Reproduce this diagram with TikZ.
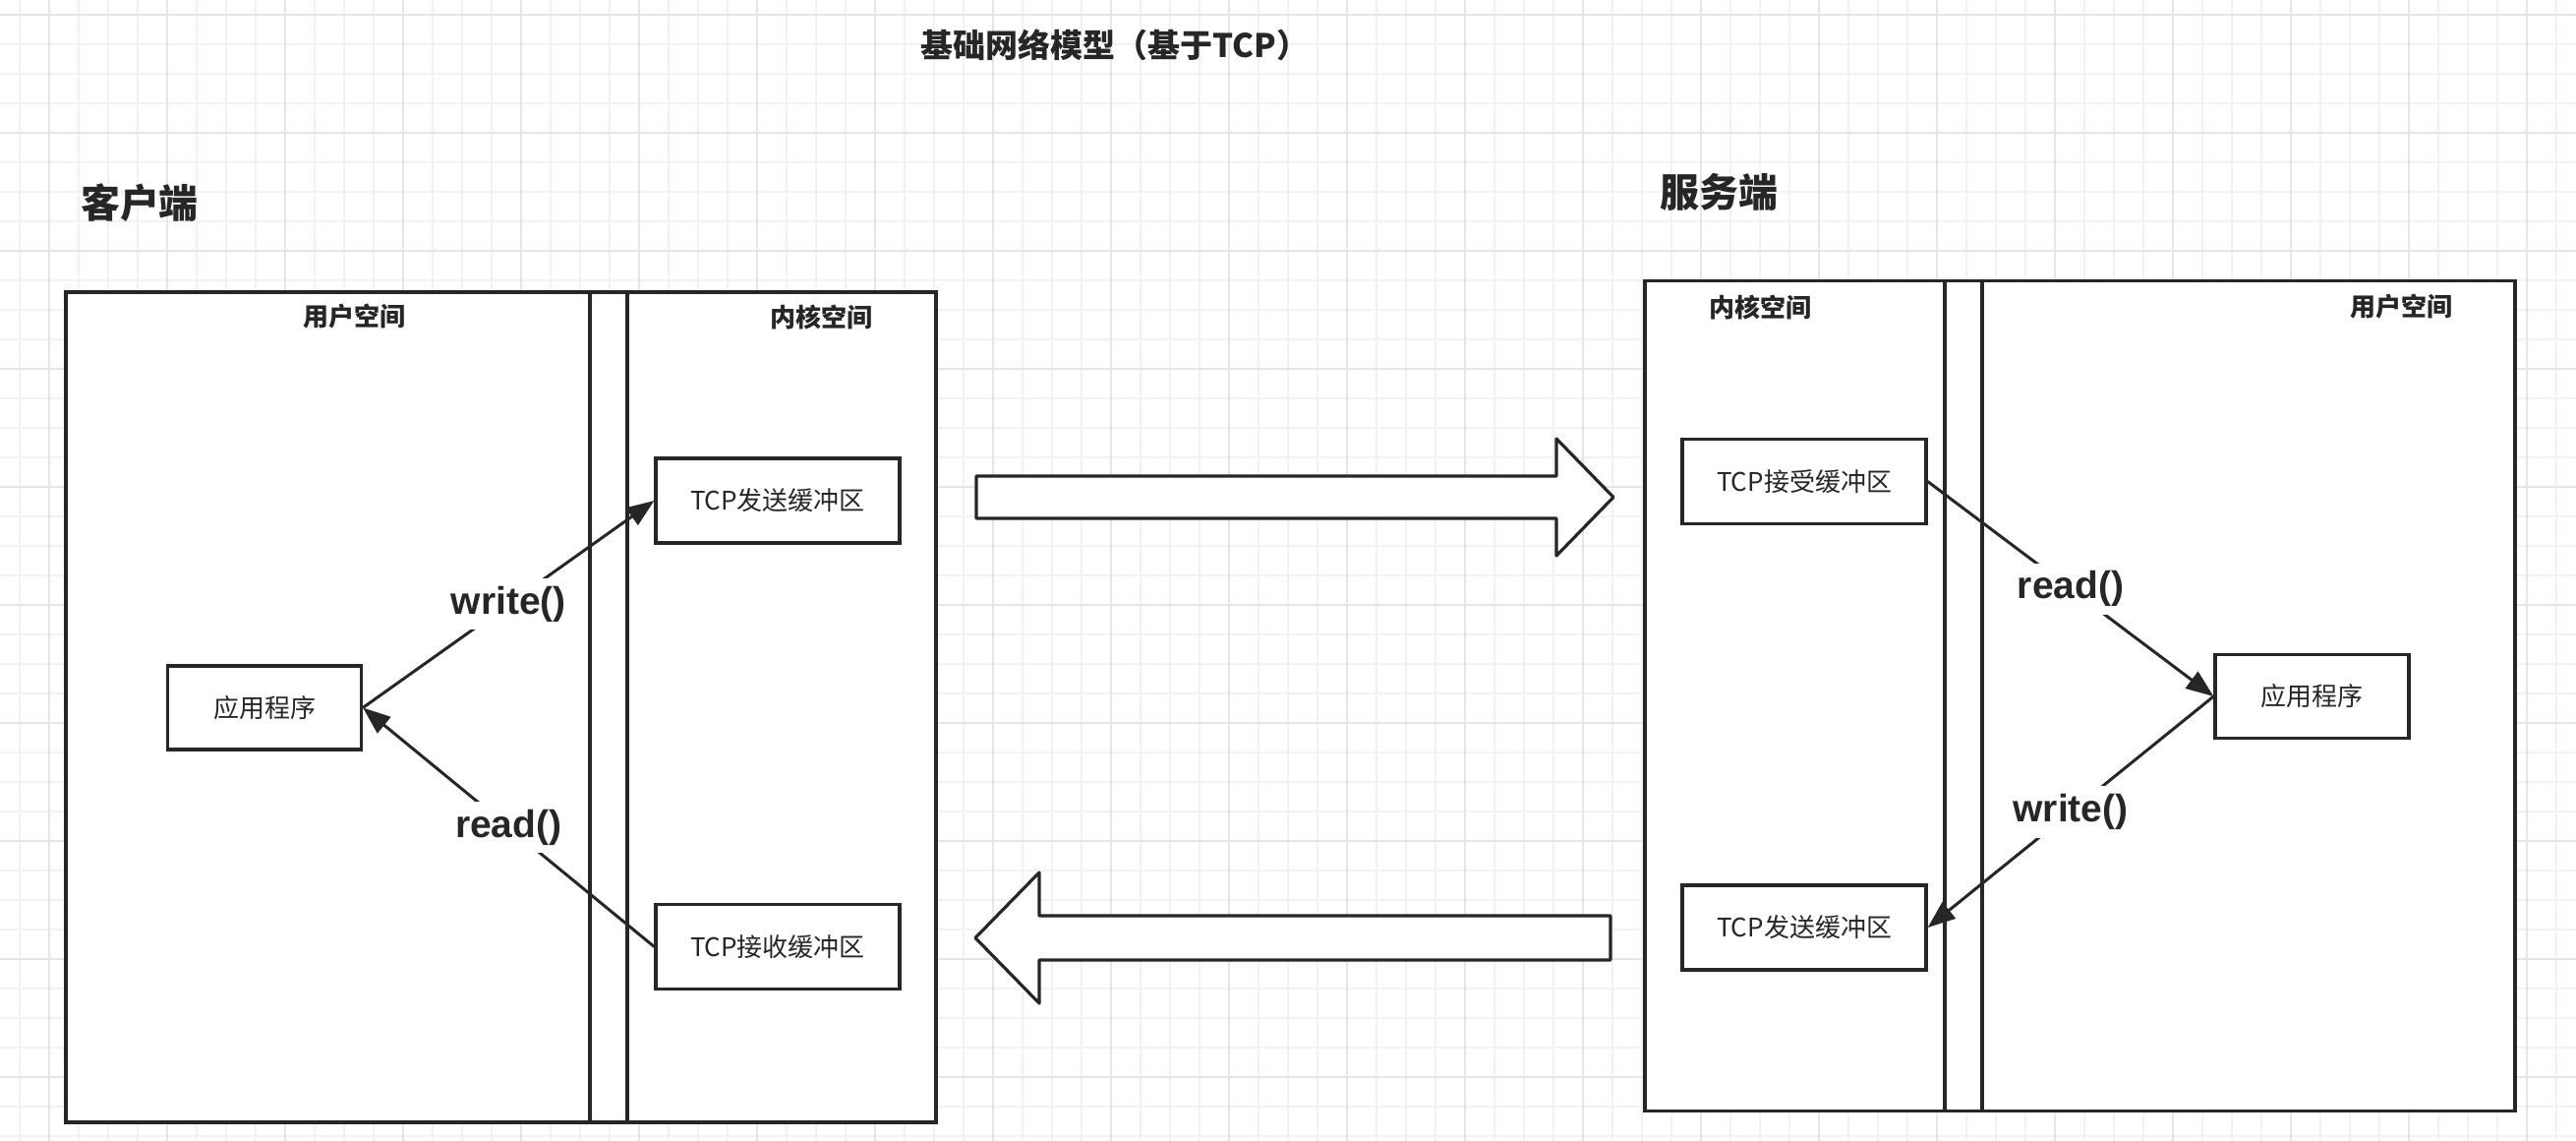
\documentclass[tikz,border=0pt]{standalone}
\usepackage{fontspec}
\setmainfont{Noto Sans CJK SC}
\newfontfamily\lat{Liberation Sans}
\usetikzlibrary{arrows.meta}
\definecolor{ink}{HTML}{262626}
\definecolor{gridminor}{HTML}{F2F2F2}
\definecolor{gridmajor}{HTML}{E5E5E5}
\begin{document}
\begin{tikzpicture}[x=0.5pt,y=-0.5pt,
  outerbox/.style={draw=ink, line width=1.8pt, fill=white, inner sep=0pt, minimum width=442.5pt, minimum height=422pt},
  divider/.style={draw=ink, line width=1.6pt},
  bufbox/.style={draw=ink, line width=1.6pt, fill=white, inner sep=0pt, minimum width=124pt, minimum height=43pt, text=ink, font=\fontsize{13}{15}\selectfont},
  appbox/.style={bufbox, minimum width=98.5pt, minimum height=42.5pt},
  spacelbl/.style={text=ink, inner sep=0pt, font=\bfseries\fontsize{13}{15}\selectfont},
  sidelbl/.style={text=ink, inner sep=0pt, font=\bfseries\fontsize{20}{24}\selectfont},
  conn/.style={draw=ink, line width=1.5pt, -{Triangle[length=14pt,width=10.5pt]}},
  calllbl/.style={fill=white, text=ink, inner sep=4pt, font=\lat\bfseries\fontsize{19.5}{23}\selectfont},
  bigarrow/.style={draw=ink, line width=1.6pt, fill=white, line join=round}
]
\useasboundingbox (0,0) rectangle (2620,1160);
\fill[white] (0,0) rectangle (2620,1160);
% grid
\foreach \i in {0,...,86} \draw[gridminor, line width=1pt] ({19.5+30*\i},0) -- ({19.5+30*\i},1160);
\foreach \i in {0,...,38} \draw[gridminor, line width=1pt] (0,{15+30*\i}) -- (2620,{15+30*\i});
\foreach \i in {0,...,21} \draw[gridmajor, line width=1pt] ({49.5+120*\i},0) -- ({49.5+120*\i},1160);
\foreach \i in {0,...,9} \draw[gridmajor, line width=1pt] (0,{15+120*\i}) -- (2620,{15+120*\i});

% title and side labels
\node[text=ink, inner sep=0pt, font=\bfseries\fontsize{16.5}{20}\selectfont] (title) at (1134,46) {基础网络模型（基于TCP）};
\node[sidelbl] (clientlbl) at (142,206) {客户端};
\node[sidelbl] (serverlbl) at (1748,195) {服务端};

% client
\node[outerbox] (client) at (509.5,719) {};
\draw[divider] (600,297) -- (600,1141);
\draw[divider] (638,297) -- (638,1141);
\node[spacelbl] (cuser) at (360,322) {用户空间};
\node[spacelbl] (ckern) at (835,322) {内核空间};
\node[bufbox] (csend) at (791,509) {TCP发送缓冲区};
\node[bufbox] (crecv) at (791,962.5) {TCP接收缓冲区};
\node[appbox] (capp) at (269,719.5) {应用程序};

% server
\node[outerbox] (server) at (2115.5,707.5) {};
\draw[divider] (1978,286) -- (1978,1129);
\draw[divider] (2016,286) -- (2016,1129);
\node[spacelbl] (skern) at (1790,312) {内核空间};
\node[spacelbl] (suser) at (2442,312) {用户空间};
\node[bufbox] (srecv) at (1835,489.5) {TCP接受缓冲区};
\node[bufbox] (ssend) at (1835,943) {TCP发送缓冲区};
\node[appbox] (sapp) at (2351.5,708) {应用程序};

% connectors
\draw[conn] (capp.east) -- node[calllbl] (cw) {write()} (csend.west);
\draw[conn] (crecv.west) -- node[calllbl] (cr) {read()} (capp.east);
\draw[conn] (srecv.east) -- node[calllbl] (sr) {read()} (sapp.west);
\draw[conn] (sapp.west) -- node[calllbl] (sw) {write()} (ssend.east);

% big arrows
\draw[bigarrow] (993,484) -- (1583,484) -- (1583,446) -- (1641,505.5) -- (1583,565) -- (1583,527) -- (993,527) -- cycle;
\draw[bigarrow] (1638,931) -- (1057,931) -- (1057,887) -- (992,953.5) -- (1057,1020) -- (1057,976) -- (1638,976) -- cycle;
\end{tikzpicture}
\end{document}
